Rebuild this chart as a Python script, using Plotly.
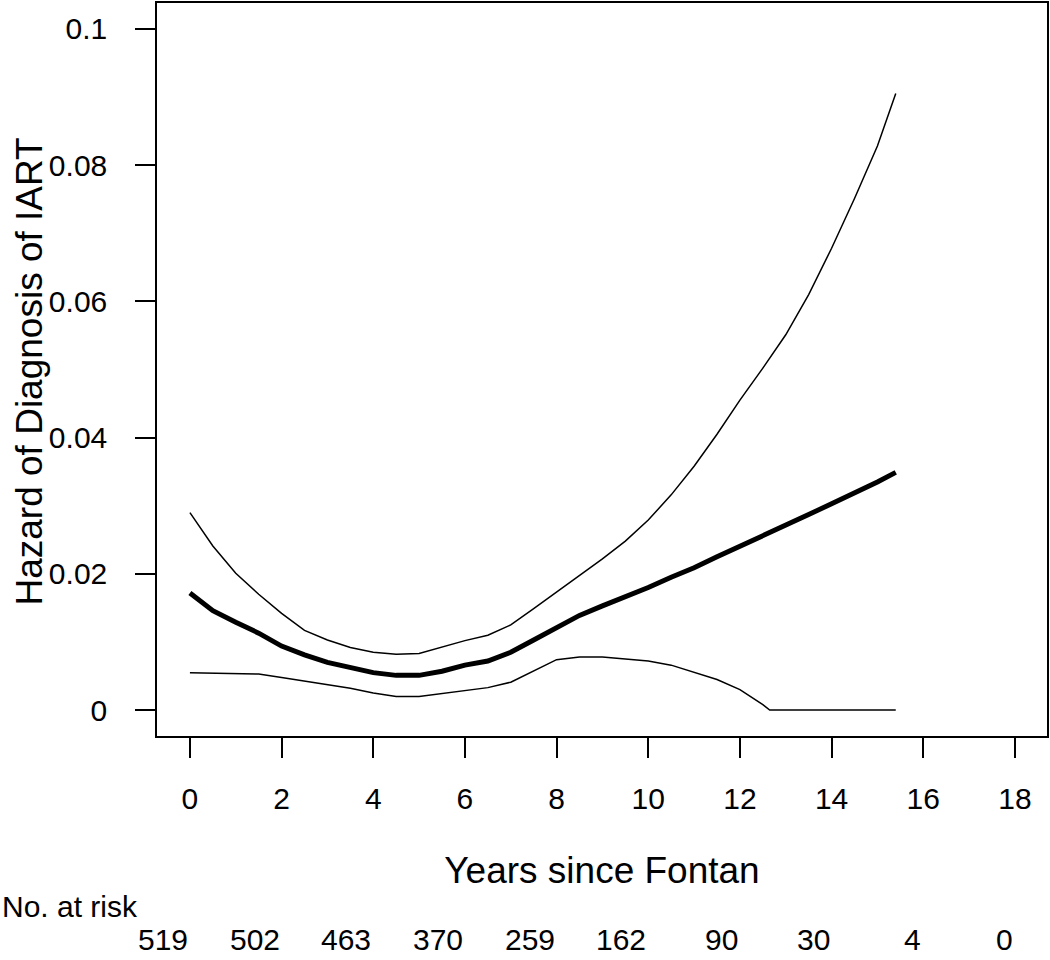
import plotly.graph_objects as go

# ---- data ----
years = [0, 0.5, 1, 1.5, 2, 2.5, 3, 3.5, 4, 4.5, 5, 5.5, 6, 6.5, 7, 7.5, 8,
         8.5, 9, 9.5, 10, 10.5, 11, 11.5, 12, 12.5, 13, 13.5, 14, 14.5, 15, 15.4]

hazard = [0.0172, 0.0146, 0.0129, 0.0113, 0.0094, 0.0081, 0.0070, 0.0062, 0.0055,
          0.0051, 0.0051, 0.0057, 0.0066, 0.0072, 0.0085, 0.0103, 0.0122, 0.0139,
          0.0153, 0.0166, 0.0180, 0.0195, 0.0209, 0.0225, 0.0240, 0.0256, 0.0271,
          0.0287, 0.0303, 0.0318, 0.0335, 0.0349]

upper = [0.0290, 0.0241, 0.0201, 0.0170, 0.0142, 0.0117, 0.0103, 0.0092, 0.0085,
         0.0082, 0.0083, 0.0093, 0.0102, 0.0110, 0.0125, 0.0149, 0.0173, 0.0197,
         0.0222, 0.0248, 0.0279, 0.0316, 0.0358, 0.0405, 0.0455, 0.0502, 0.0551,
         0.0610, 0.0678, 0.0751, 0.0828, 0.0905]

lower_years = [0, 0.5, 1, 1.5, 2, 2.5, 3, 3.5, 4, 4.5, 5, 5.5, 6, 6.5, 7, 7.5, 8,
               8.5, 9, 9.5, 10, 10.5, 11, 11.5, 12, 12.5, 12.65, 13, 13.5, 14, 14.5, 15, 15.4]
lower = [0.0055, 0.0054, 0.0054, 0.0053, 0.0048, 0.0043, 0.0038, 0.0032, 0.0025,
         0.0020, 0.0020, 0.0024, 0.0029, 0.0033, 0.0041, 0.0058, 0.0074, 0.0078,
         0.0078, 0.0075, 0.0072, 0.0066, 0.0056, 0.0045, 0.0030, 0.0008, 0.0,
         0.0, 0.0, 0.0, 0.0, 0.0, 0.0]

x_ticks = [0, 2, 4, 6, 8, 10, 12, 14, 16, 18]
y_ticks = [0, 0.02, 0.04, 0.06, 0.08, 0.1]
y_tick_labels = ["0", "0.02", "0.04", "0.06", "0.08", "0.1"]
risk_counts = [519, 502, 463, 370, 259, 162, 90, 30, 4, 0]

FONT = "Liberation Sans, Arial, Helvetica, sans-serif"

fig = go.Figure()
fig.add_trace(go.Scatter(x=years, y=upper, mode="lines",
                         line=dict(color="black", width=1.5), showlegend=False))
fig.add_trace(go.Scatter(x=lower_years, y=lower, mode="lines",
                         line=dict(color="black", width=1.5), showlegend=False))
fig.add_trace(go.Scatter(x=years, y=hazard, mode="lines",
                         line=dict(color="black", width=5), showlegend=False))

for t, n in zip(x_ticks, risk_counts):
    fig.add_annotation(x=t, xref="x", y=-0.2775, yref="paper", text=str(n),
                       showarrow=False, xanchor="right", yanchor="middle",
                       font=dict(family=FONT, size=30, color="black"))

fig.add_annotation(x=-0.176, xref="paper", y=-0.233, yref="paper", text="No. at risk",
                   showarrow=False, xanchor="left", yanchor="middle",
                   font=dict(family=FONT, size=30, color="black"))

# y-axis title placed as a rotated annotation for exact position
fig.add_annotation(x=-0.1429, xref="paper", y=0.497, yref="paper",
                   text="Hazard of Diagnosis of IART", textangle=-90,
                   showarrow=False, xanchor="center", yanchor="middle",
                   font=dict(family=FONT, size=37, color="black"))

fig.update_layout(
    width=1050, height=960,
    margin=dict(l=157, r=1, t=1, b=224),
    paper_bgcolor="white", plot_bgcolor="white",
    font=dict(family=FONT, color="black"),
    xaxis=dict(range=[-0.7185, 18.70], tickmode="array", tickvals=x_ticks,
               ticks="outside", ticklen=20, tickwidth=1.5, tickcolor="black",
               showline=True, linecolor="black", linewidth=1.5, mirror=True,
               showgrid=False, zeroline=False,
               tickfont=dict(family=FONT, size=30), ticklabelstandoff=15,
               title=dict(text="Years since Fontan", font=dict(family=FONT, size=37),
                          standoff=43)),
    yaxis=dict(range=[-0.0038, 0.1038], tickmode="array", tickvals=y_ticks,
               ticktext=y_tick_labels,
               ticks="outside", ticklen=20, tickwidth=1.5, tickcolor="black",
               showline=True, linecolor="black", linewidth=1.5, mirror=True,
               showgrid=False, zeroline=False,
               tickfont=dict(family=FONT, size=30), ticklabelstandoff=22),
)

fig.write_html("out.html", config={"displayModeBar": False},
               post_script="document.body.style.margin='0';document.body.style.padding='0';")
